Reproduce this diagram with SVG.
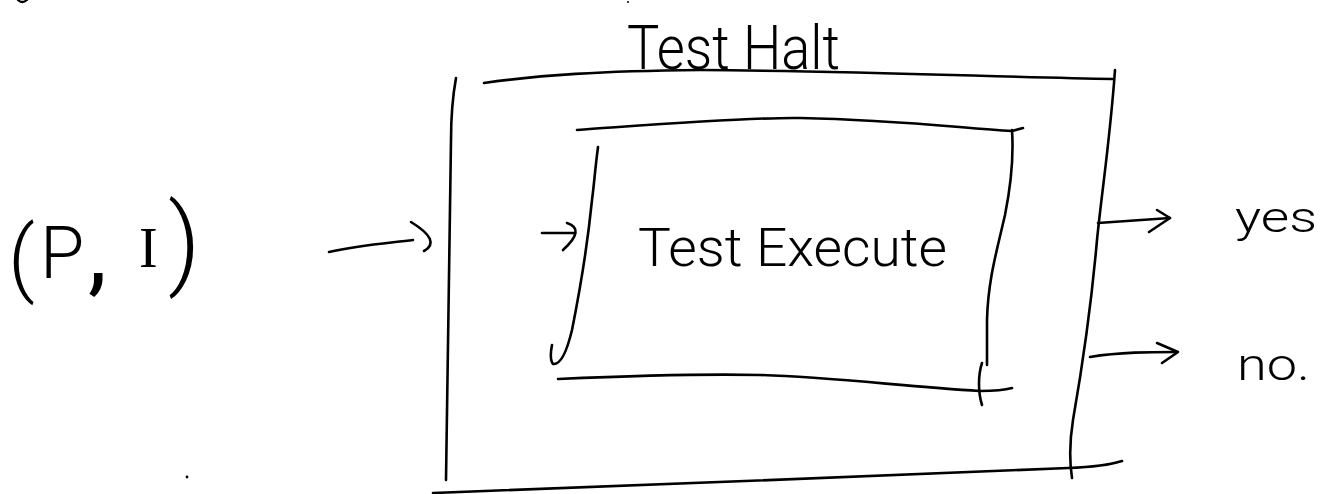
<svg xmlns="http://www.w3.org/2000/svg" width="1323" height="494" viewBox="0 0 1323 494">
<style>
.ink{fill:none;stroke:#000;stroke-width:2.6;stroke-linecap:round;stroke-linejoin:round}
.thin{fill:none;stroke:#000;stroke-width:2.2;stroke-linecap:round;stroke-linejoin:round}
.hand{font-family:Roboto,"Liberation Sans","DejaVu Sans",sans-serif;font-weight:300;fill:#000}
</style>
<rect width="1323" height="494" fill="#fff"/>
<g id="input">
  <text class="hand" y="283"><tspan x="8" y="286" font-size="84">(</tspan><tspan x="40" y="278" font-size="72">P</tspan><tspan x="88" y="283" font-size="96" font-weight="400">,</tspan><tspan x="139" y="267" font-size="56" font-family="Liberation Serif,serif" font-weight="400">I</tspan><tspan x="168" y="276" font-size="100">)</tspan></text>
</g>
<g id="test-halt">
  <path class="ink" d="M484,83 C540,75 600,71 700,70 C850,71 1000,77 1113,79"/>
  <path class="ink" d="M1115,70 C1110,140 1102,190 1097,240 C1090,320 1080,380 1073,420 C1069,445 1070,465 1072,478"/>
  <path class="ink" d="M456,78 C452,100 451,120 451,140 L446,480"/>
  <path class="ink" d="M433,493 C600,487 900,475 1068,468 C1095,467 1110,465 1122,461"/>
  <text class="hand" x="627" y="69" font-size="62" textLength="213" lengthAdjust="spacingAndGlyphs">Test Halt</text>
</g>
<g id="test-execute">
  <path class="ink" d="M577,130 C650,125 750,117 800,118 C900,120 960,128 1012,131 L1023,128"/>
  <path class="ink" d="M1012,130 C1014,160 1010,190 1005,215 C997,250 988,280 987,320 L987,365"/>
  <path class="ink" d="M982,363 C978,375 978,392 982,405"/>
  <path class="ink" d="M598,147 C595,170 594,185 592,200 C588,240 580,290 572,330 C566,355 560,365 553,364 C550,360 551,350 552,345"/>
  <path class="ink" d="M558,379 C650,375 720,374 760,375 C830,377 900,386 980,391 C995,391 1005,390 1012,388"/>
  <text class="hand" x="638" y="266" font-size="54" textLength="309" lengthAdjust="spacingAndGlyphs">Test Execute</text>
</g>
<g id="out-yes">
  <text class="hand" x="1235" y="232" font-size="42" textLength="82" lengthAdjust="spacingAndGlyphs">yes</text>
</g>
<g id="out-no">
  <text class="hand" x="1237" y="380" font-size="44" textLength="73" lengthAdjust="spacingAndGlyphs">no.</text>
</g>
<g id="connectors">
  <path class="ink" d="M329,252 C360,245 390,243 413,240"/>
  <path class="ink" d="M411,222 Q442,241 424,251"/>
  <path class="ink" d="M542,233 L574,233"/>
  <path class="ink" d="M567,223 Q586,229 563,250"/>
  <path class="ink" d="M1098,223 L1170,218"/>
  <path class="ink" d="M1157,210 L1170,218 L1149,232"/>
  <path class="ink" d="M1090,357 C1120,352 1150,352 1177,352"/>
  <path class="ink" d="M1157,343 L1178,352 L1162,363"/>
</g>
<circle cx="187" cy="477" r="1.4" fill="#000"/>
<path class="thin" d="M18,0 Q22,4 27,0"/>
<circle cx="628" cy="2" r="1" fill="#000"/>
</svg>
